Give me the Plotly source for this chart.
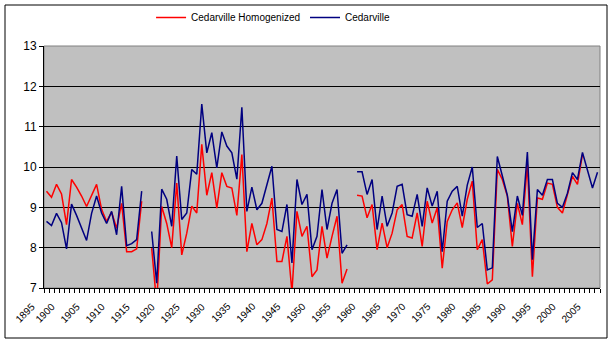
import plotly.graph_objects as go

years = list(range(1895, 2006))

homogenized = [
    9.40, 9.25, 9.57, 9.33, 8.57, 9.69, 9.50, 9.28, 9.02, 9.28,
    9.57, 8.95, 8.65, 8.88, 8.48, 9.10, 7.90, 7.90, 7.97, 9.15,
    None, 7.99, 6.60, 9.02, 8.60, 8.00, 9.60, 7.82, 8.36, 9.03,
    8.86, 10.56, 9.30, 9.86, 8.98, 9.86, 9.52, 9.48, 8.80, 10.31,
    7.90, 8.60, 8.07, 8.20, 8.60, 9.23, 7.66, 7.66, 8.28, 6.90,
    8.90, 8.28, 8.53, 7.28, 7.45, 8.53, 7.74, 8.28, 8.78, 7.12,
    7.47, None, 9.30, 9.28, 8.74, 9.07, 7.95, 8.61, 8.00, 8.36,
    8.94, 9.07, 8.28, 8.24, 8.86, 8.03, 9.15, 8.61, 8.99, 7.49,
    8.65, 8.94, 9.11, 8.50, 9.20, 9.65, 7.95, 8.20, 7.10, 7.20,
    9.94, 9.69, 9.28, 8.03, 9.10, 8.57, 10.07, 7.28, 9.23, 9.20,
    9.60, 9.57, 9.00, 8.86, 9.32, 9.77, 9.57, 10.31, None, None,
    None,
]

raw = [
    8.65, 8.55, 8.85, 8.62, 7.97, 9.08, 8.80, 8.50, 8.18, 8.85,
    9.28, 8.86, 8.60, 8.90, 8.32, 9.52, 8.05, 8.10, 8.20, 9.40,
    None, 8.40, 7.12, 9.45, 9.20, 8.53, 10.27, 8.70, 8.86, 9.94,
    9.82, 11.56, 10.35, 10.85, 9.98, 10.87, 10.52, 10.35, 9.70, 11.48,
    8.90, 9.50, 8.94, 9.10, 9.55, 10.02, 8.45, 8.40, 9.07, 7.62,
    9.69, 9.07, 9.32, 7.95, 8.28, 9.44, 8.45, 9.10, 9.44, 7.86,
    8.07, None, 9.88, 9.88, 9.32, 9.69, 8.45, 9.28, 8.53, 8.86,
    9.52, 9.57, 8.82, 8.78, 9.32, 8.53, 9.48, 9.03, 9.40, 7.90,
    9.15, 9.40, 9.52, 8.78, 9.55, 10.00, 8.50, 8.60, 7.45, 7.50,
    10.26, 9.80, 9.30, 8.40, 9.28, 8.80, 10.37, 7.70, 9.44, 9.30,
    9.69, 9.69, 9.10, 9.00, 9.35, 9.86, 9.69, 10.36, 9.94, 9.48,
    9.87,
]

label_years = list(range(1895, 2006, 5))
y_ticks = [7, 8, 9, 10, 11, 12, 13]

FONT = "Arial, Liberation Sans, sans-serif"

fig = go.Figure()
fig.add_trace(go.Scatter(
    x=years, y=homogenized, mode="lines", name="Cedarville Homogenized",
    line=dict(color="#FF0000", width=1.5), connectgaps=False,
))
fig.add_trace(go.Scatter(
    x=years, y=raw, mode="lines", name="Cedarville",
    line=dict(color="#000080", width=1.5), connectgaps=False,
))

W, H = 614, 343
L, R, T, B = 44, 14, 46, 55
pw, ph = W - L - R, H - T - B

def px_to_paper(x, y):
    return (x - L) / pw, (H - B - y) / ph

bx0, by0 = px_to_paper(5, 338)
bx1, by1 = px_to_paper(607, 5)
_, leg_y = px_to_paper(0, 3)

annotations = []
for yr in label_years:
    annotations.append(dict(
        x=yr, xref="x", y=0, yref="paper", text=str(yr), showarrow=False,
        xanchor="right", yanchor="top", textangle=-45,
        xshift=-6 if yr == label_years[0] else -11, yshift=-10,
        font=dict(family=FONT, size=10, color="black"),
    ))

fig.update_layout(
    width=W, height=H,
    margin=dict(l=L, r=R, t=T, b=B, autoexpand=False),
    paper_bgcolor="white",
    plot_bgcolor="#C0C0C0",
    font=dict(family=FONT, size=11, color="black"),
    showlegend=True,
    legend=dict(
        orientation="h", x=0.412, y=leg_y, xanchor="center", yanchor="top",
        font=dict(family=FONT, size=10), bgcolor="rgba(0,0,0,0)",
        itemwidth=30, tracegroupgap=0,
    ),
    annotations=annotations,
    shapes=[
        dict(type="rect", xref="paper", yref="paper",
             x0=bx0, y0=by0, x1=bx1, y1=by1,
             line=dict(color="black", width=1), layer="below"),
        dict(type="rect", xref="paper", yref="paper",
             x0=0, y0=0, x1=1, y1=1,
             line=dict(color="#808080", width=1), layer="below"),
    ],
)

fig.update_xaxes(
    range=[1894.5, 2005.5],
    tickmode="array", tickvals=label_years, showticklabels=False,
    ticks="", showgrid=False, zeroline=False,
    showline=True, linecolor="black", linewidth=1,
    minor=dict(tick0=1894.5, dtick=1, ticks="outside", ticklen=4,
               tickcolor="black", showgrid=False),
)
fig.update_yaxes(
    range=[7, 13], tickmode="array", tickvals=y_ticks,
    ticks="outside", ticklen=4, tickcolor="black",
    showgrid=True, gridcolor="black", gridwidth=1, zeroline=False,
    showline=True, linecolor="black", linewidth=1,
    tickfont=dict(family=FONT, size=12),
)

fig.write_html("out.html")
